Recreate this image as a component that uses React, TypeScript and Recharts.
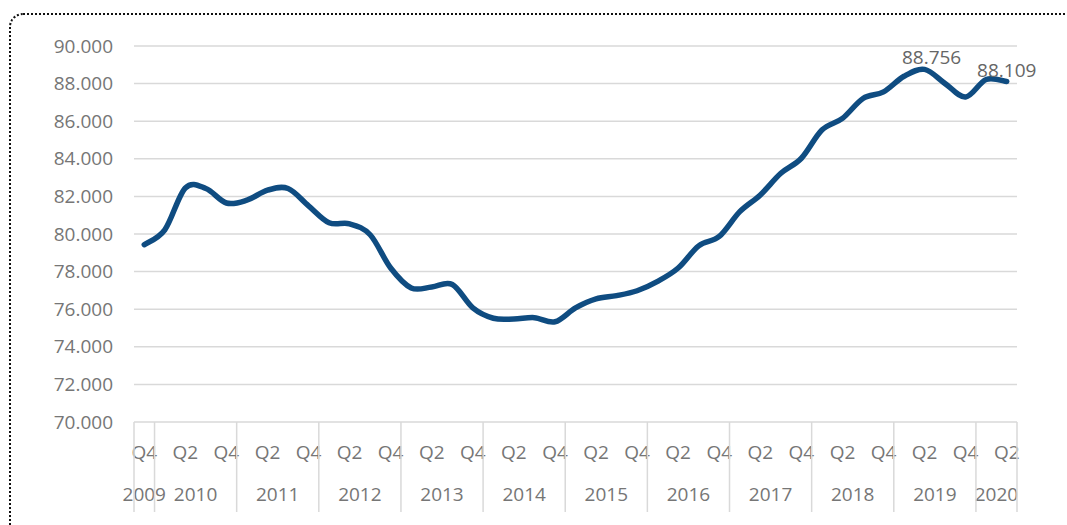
import React from "react";
import { ComposedChart, Line, XAxis, YAxis, CartesianGrid, LabelList } from "recharts";

const quarters = [
  "Q4",
  "Q1", "Q2", "Q3", "Q4",
  "Q1", "Q2", "Q3", "Q4",
  "Q1", "Q2", "Q3", "Q4",
  "Q1", "Q2", "Q3", "Q4",
  "Q1", "Q2", "Q3", "Q4",
  "Q1", "Q2", "Q3", "Q4",
  "Q1", "Q2", "Q3", "Q4",
  "Q1", "Q2", "Q3", "Q4",
  "Q1", "Q2", "Q3", "Q4",
  "Q1", "Q2", "Q3", "Q4",
  "Q1", "Q2",
];

const years = [
  "2009",
  "2010", "2010", "2010", "2010",
  "2011", "2011", "2011", "2011",
  "2012", "2012", "2012", "2012",
  "2013", "2013", "2013", "2013",
  "2014", "2014", "2014", "2014",
  "2015", "2015", "2015", "2015",
  "2016", "2016", "2016", "2016",
  "2017", "2017", "2017", "2017",
  "2018", "2018", "2018", "2018",
  "2019", "2019", "2019", "2019",
  "2020", "2020",
];

const values = [
  79.43,
  80.22, 82.45, 82.42, 81.65,
  81.8, 82.33, 82.42, 81.5,
  80.6, 80.54, 79.96, 78.19,
  77.13, 77.18, 77.31, 76.07,
  75.52, 75.48, 75.55, 75.33,
  76.07, 76.55, 76.72, 76.98,
  77.48, 78.19, 79.37, 79.87,
  81.19, 82.08, 83.23, 84.03,
  85.53, 86.15, 87.21, 87.56,
  88.39, 88.756, 88.0, 87.29,
  88.22, 88.109,
];

const yTicks = [70, 72, 74, 76, 78, 80, 82, 84, 86, 88, 90];
const labeledPoints = ["Q2 2019", "Q2 2020"];

const data = quarters.map((q, i) => ({
  key: `${q} ${years[i]}`,
  q,
  year: years[i],
  value: values[i],
}));

const W = 1067;
const H = 525;
const M = { top: 46, right: 50, bottom: 13, left: 0 };
const Y_W = 134;
const X_H = 90;
const PLOT_L = M.left + Y_W;
const PLOT_R = W - M.right;
const BAND = (PLOT_R - PLOT_L) / data.length;
const PLOT_B = H - M.bottom - X_H;

const FONT = "'Open Sans', 'Noto Sans', sans-serif";
const TICK_COLOR = "#767676";
const SEP_COLOR = "#d9d9d9";

const fmt = (v: number) => v.toFixed(3);

// Smoothed line like a spreadsheet's "smoothed line" (uniform Catmull-Rom spline)
const smoothCurve = (context: any) => {
  let pts: number[][] = [];
  return {
    areaStart() {},
    areaEnd() {},
    lineStart() {
      pts = [];
    },
    lineEnd() {
      const n = pts.length;
      if (n === 0) return;
      context.moveTo(pts[0][0], pts[0][1]);
      for (let i = 0; i < n - 1; i++) {
        const p0 = pts[i - 1] || pts[i];
        const p1 = pts[i];
        const p2 = pts[i + 1];
        const p3 = pts[i + 2] || p2;
        context.bezierCurveTo(
          p1[0] + (p2[0] - p0[0]) / 6,
          p1[1] + (p2[1] - p0[1]) / 6,
          p2[0] - (p3[0] - p1[0]) / 6,
          p2[1] - (p3[1] - p1[1]) / 6,
          p2[0],
          p2[1]
        );
      }
    },
    point(x: number, y: number) {
      pts.push([+x, +y]);
    },
  };
};

const YTick = (props: any) => {
  const { y, payload } = props;
  return (
    <text
      x={PLOT_L - 21}
      y={y}
      dy="0.35em"
      textAnchor="end"
      fill={TICK_COLOR}
      fontSize={19}
      fontFamily={FONT}
    >
      {fmt(payload.value)}
    </text>
  );
};

const XTick = (props: any) => {
  const { x, index } = props;
  const d = data[index];
  if (!d) return null;
  const els: any[] = [];
  if (index % 2 === 0) {
    els.push(
      <text
        key="q"
        x={x}
        y={PLOT_B + 37}
        textAnchor="middle"
        fill={TICK_COLOR}
        fontSize={19}
        fontFamily={FONT}
      >
        {d.q}
      </text>
    );
  }
  const first = index === 0 || data[index - 1].year !== d.year;
  if (first) {
    let last = index;
    while (last + 1 < data.length && data[last + 1].year === d.year) last++;
    const cx = x + ((last - index) / 2) * BAND;
    els.push(
      <text
        key="y"
        x={cx}
        y={PLOT_B + 79}
        textAnchor="middle"
        fill={TICK_COLOR}
        fontSize={19}
        fontFamily={FONT}
      >
        {d.year}
      </text>
    );
    els.push(
      <line
        key="s"
        x1={x - BAND / 2}
        x2={x - BAND / 2}
        y1={PLOT_B}
        y2={PLOT_B + 90}
        stroke={SEP_COLOR}
        strokeWidth={1.5}
      />
    );
  }
  if (index === data.length - 1) {
    els.push(
      <line
        key="e"
        x1={x + BAND / 2}
        x2={x + BAND / 2}
        y1={PLOT_B}
        y2={PLOT_B + 90}
        stroke={SEP_COLOR}
        strokeWidth={1.5}
      />
    );
  }
  return <g>{els}</g>;
};

const PointLabel = (props: any) => {
  const { x, y, index, value } = props;
  const d = data[index];
  if (!d || !labeledPoints.includes(d.key)) return null;
  return (
    <text
      x={x}
      y={y - 5}
      dx={index === 38 ? 7 : 0}
      textAnchor="middle"
      fill="#666666"
      fontSize={19}
      fontFamily={FONT}
    >
      {fmt(value)}
    </text>
  );
};

export default function App() {
  return (
    <div
      style={{
        position: "fixed",
        left: 0,
        top: 0,
        width: W,
        height: H,
        overflow: "hidden",
        background: "#ffffff",
      }}
    >
      <div
        style={{
          position: "absolute",
          left: 9,
          top: 13,
          width: 1200,
          height: 700,
          border: "2px dotted #111111",
          borderTopLeftRadius: 14,
        }}
      />
      <div style={{ position: "absolute", left: 0, top: 0 }}>
        <ComposedChart width={W} height={H} data={data} margin={M}>
          <CartesianGrid vertical={false} stroke="#d9d9d9" strokeWidth={1.5} />
          <XAxis
            dataKey="key"
            scale="point"
            padding={{ left: BAND / 2, right: BAND / 2 }}
            height={X_H}
            interval={0}
            axisLine={false}
            tickLine={false}
            tick={<XTick />}
          />
          <YAxis
            width={Y_W}
            domain={[70, 90]}
            ticks={yTicks}
            interval={0}
            axisLine={false}
            tickLine={false}
            tick={<YTick />}
          />
          <Line
            type={smoothCurve as any}
            dataKey="value"
            stroke="#0F4C81"
            strokeWidth={5.5}
            strokeLinecap="round"
            dot={false}
            activeDot={false}
            isAnimationActive={false}
          >
            <LabelList dataKey="value" content={<PointLabel />} />
          </Line>
        </ComposedChart>
      </div>
    </div>
  );
}
